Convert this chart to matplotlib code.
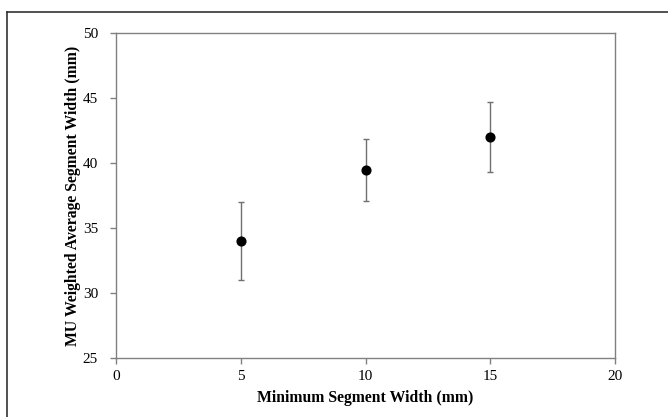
import numpy as np
import matplotlib
matplotlib.use("Agg")
import matplotlib.pyplot as plt
from matplotlib.lines import Line2D

# data
min_width = [5, 10, 15]
avg_width = [34.0, 39.45, 42.0]
err = [3.0, 2.4, 2.7]

x_ticks = [0, 5, 10, 15, 20]
y_ticks = [25, 30, 35, 40, 45, 50]

plt.rcParams['font.family'] = ['Liberation Serif', 'DejaVu Serif']

fig = plt.figure(figsize=(6.68, 4.17), dpi=100)
ax = fig.add_axes([116 / 668, 59 / 417, 499 / 668, 325 / 417])

ax.errorbar(min_width, avg_width, yerr=err, fmt='o', color='black',
            markersize=6.3, ecolor='#707070', elinewidth=1.0,
            capsize=2.5, capthick=1.0)

ax.set_xlim(0, 20)
ax.set_ylim(25, 50)
ax.set_xticks(x_ticks)
ax.set_yticks(y_ticks)

for side in ['left', 'bottom', 'top', 'right']:
    ax.spines[side].set_color('#808080')
    ax.spines[side].set_linewidth(1.0)

ax.tick_params(axis='both', direction='out', length=4, width=1,
               color='#808080', labelsize=11, pad=5)
ax.tick_params(axis='y', pad=9)

ax.set_xlabel('Minimum Segment Width (mm)', fontsize=11.3, fontweight='bold',
              labelpad=5)
ax.set_ylabel('MU Weighted Average Segment Width (mm)', fontsize=11.3,
              fontweight='bold', labelpad=1.5)

# outer frame, only top and left edge show in the crop
fig.add_artist(Line2D([7 / 668, 7 / 668], [0, 1 - 12 / 417],
                      transform=fig.transFigure, color='#333333', lw=1.2))
fig.add_artist(Line2D([7 / 668, 1], [1 - 12 / 417, 1 - 12 / 417],
                      transform=fig.transFigure, color='#333333', lw=1.2))

fig.savefig('out.png', dpi=100)
